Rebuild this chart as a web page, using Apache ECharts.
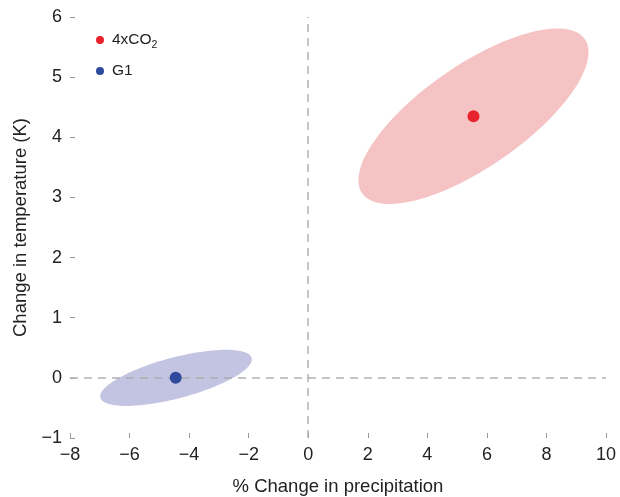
<!DOCTYPE html>
<html>
<head>
<meta charset="utf-8">
<script src="https://cdn.jsdelivr.net/npm/echarts@6/dist/echarts.min.js"></script>
<style>html,body{margin:0;padding:0;background:#fff;}#c{width:620px;height:497px;}</style>
</head>
<body>
<div id="c"></div>
<script>
// Data
var seriesNames = ['4xCO2', 'G1'];
var pointCO2 = [5.55, 4.35];
var pointG1 = [-4.45, 0.0];
// ellipse: [cx, cy, major half-axis dx, dy, minor half-axis dx, dy] in data units
var ellipseCO2 = [5.55, 4.35, 3.74, 1.28, -0.97, 0.70];
var ellipseG1 = [-4.44, 0.0, 2.54, 0.33, -0.17, 0.33];
var xTicks = [-8, -6, -4, -2, 0, 2, 4, 6, 8, 10];
var yTicks = [-1, 0, 1, 2, 3, 4, 5, 6];

var font = '"Liberation Sans", Arial, sans-serif';
var chart = echarts.init(document.getElementById('c'), null, {renderer: 'canvas'});

function ellipseRender(color) {
  return function (params, api) {
    var cx = api.value(0), cy = api.value(1), ux = api.value(2), uy = api.value(3), vx = api.value(4), vy = api.value(5);
    var pts = [];
    var n = 120;
    for (var i = 0; i < n; i++) {
      var t = 2 * Math.PI * i / n;
      pts.push(api.coord([cx + ux * Math.cos(t) + vx * Math.sin(t), cy + uy * Math.cos(t) + vy * Math.sin(t)]));
    }
    return {type: 'polygon', shape: {points: pts}, style: {fill: color}, silent: true};
  };
}
function minus(v) { return String(v).replace('-', '\u2212'); }

chart.setOption({
  animation: false,
  backgroundColor: '#fff',
  grid: {left: 70, right: 14, top: 17, bottom: 59, containLabel: false, outerBoundsMode: 'none'},
  legend: {
    data: seriesNames,
    orient: 'vertical',
    left: 91, top: 27,
    itemWidth: 8, itemHeight: 8, itemGap: 12,
    icon: 'circle',
    textStyle: {
      fontFamily: font, fontSize: 15.5, color: '#222',
      rich: {
        a: {fontFamily: font, fontSize: 15.5, color: '#222', padding: [0, 0, 0, 3]},
        s: {fontFamily: font, fontSize: 10.5, color: '#222', padding: [11, 0, 0, 0]}
      }
    },
    formatter: function (name) {
      return name === '4xCO2' ? '{a|4xCO}{s|2}' : '{a|' + name + '}';
    }
  },
  xAxis: {
    type: 'value', min: -8, max: 10, interval: 2,
    name: '% Change in precipitation', nameLocation: 'middle', nameGap: 39,
    nameTextStyle: {fontFamily: font, fontSize: 18.5, color: '#222'},
    axisLine: {show: false, onZero: false},
    axisTick: {show: true, inside: true, length: 5, lineStyle: {color: '#999'}},
    splitLine: {show: false},
    axisLabel: {fontFamily: font, fontSize: 18, color: '#222', margin: 8, formatter: minus}
  },
  yAxis: {
    type: 'value', min: -1, max: 6, interval: 1,
    name: 'Change in temperature (K)', nameLocation: 'middle', nameGap: 39,
    nameTextStyle: {fontFamily: font, fontSize: 18.5, color: '#222'},
    axisLine: {show: false, onZero: false},
    axisTick: {show: true, inside: true, length: 5, lineStyle: {color: '#999'}},
    splitLine: {show: false},
    axisLabel: {fontFamily: font, fontSize: 18, color: '#222', margin: 8, formatter: minus}
  },
  series: [
    {type: 'custom', name: 'ellCO2', renderItem: ellipseRender('#f6c3c4'), data: [ellipseCO2], z: 1, silent: true},
    {type: 'custom', name: 'ellG1', renderItem: ellipseRender('#c3c3e2'), data: [ellipseG1], z: 1, silent: true},
    {
      type: 'line', name: 'zero', data: [], z: 2, silent: true,
      markLine: {
        silent: true, symbol: 'none', label: {show: false},
        lineStyle: {color: '#a9a9a9', type: [8, 6], width: 1.5, opacity: 0.9},
        data: [{xAxis: 0}, {yAxis: 0}]
      }
    },
    {type: 'scatter', name: '4xCO2', data: [pointCO2], symbolSize: 12, itemStyle: {color: '#e8232b', opacity: 1}, z: 5},
    {type: 'scatter', name: 'G1', data: [pointG1], symbolSize: 12, itemStyle: {color: '#2f4a9d', opacity: 1}, z: 5}
  ]
});
</script>
</body>
</html>
